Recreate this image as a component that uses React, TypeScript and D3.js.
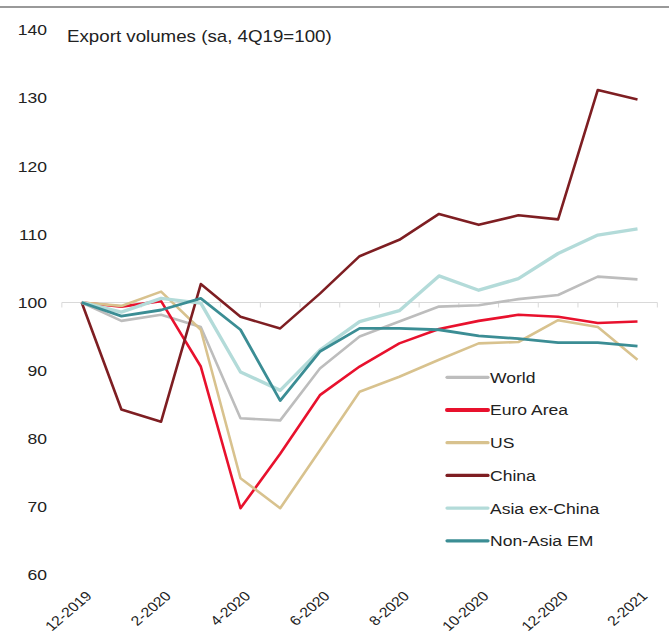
import React, { useEffect, useRef } from 'react'
import * as d3 from 'd3'

// monthly points, 12-2019 .. 2-2021
const months = ['12-2019', '1-2020', '2-2020', '3-2020', '4-2020', '5-2020', '6-2020', '7-2020',
  '8-2020', '9-2020', '10-2020', '11-2020', '12-2020', '1-2021', '2-2021']
const tickLabels = ['12-2019', '2-2020', '4-2020', '6-2020', '8-2020', '10-2020', '12-2020', '2-2021']
const yTicks = [60, 70, 80, 90, 100, 110, 120, 130, 140]

const seriesNames = ['World', 'Euro Area', 'US', 'China', 'Asia ex-China', 'Non-Asia EM']
const world = [100, 97.3, 98.2, 96.4, 83.0, 82.7, 90.3, 95.0, 97.2, 99.4, 99.6, 100.5, 101.1, 103.8, 103.4]
const euroArea = [100, 99.4, 100.2, 90.6, 69.8, 77.8, 86.4, 90.6, 94.0, 96.1, 97.3, 98.2, 97.9, 97.0, 97.2]
const us = [100, 99.5, 101.6, 96.0, 74.2, 69.8, 78.3, 86.9, 89.1, 91.6, 94.0, 94.2, 97.4, 96.4, 91.6]
const china = [100, 84.3, 82.5, 102.7, 97.9, 96.2, 101.3, 106.8, 109.2, 113.0, 111.4, 112.8, 112.2, 131.2, 129.8]
const asiaExChina = [100, 98.6, 100.6, 99.9, 89.8, 87.1, 93.0, 97.2, 98.8, 103.9, 101.8, 103.5, 107.2, 109.9, 110.8]
const nonAsiaEM = [100, 98.0, 98.9, 100.6, 96.0, 85.6, 92.8, 96.2, 96.2, 96.0, 95.1, 94.7, 94.1, 94.1, 93.6]

const colors = ['#bdbdbd', '#e8112d', '#d8c28e', '#7e1e22', '#b3dbd9', '#3b8d94']
const widths = [2.6, 2.6, 2.6, 2.6, 3.4, 2.8]

export default function App() {
  const ref = useRef<SVGSVGElement>(null)

  useEffect(() => {
    const svg = d3.select(ref.current)
    svg.selectAll('*').remove()
    const font = '"Liberation Sans", Arial, sans-serif'
    const sx = 1.17 // the text in the picture is a bit wide

    const x = d3.scalePoint<string>().domain(months).range([81.7, 637.5])
    const step = x.step()
    const y = d3.scaleLinear().domain([60, 140]).range([575, 30])

    // top rule
    svg.append('line').attr('x1', 0).attr('x2', 669).attr('y1', 7).attr('y2', 7)
      .attr('stroke', '#777').attr('stroke-width', 1.5)

    // y labels
    svg.append('g').selectAll('text').data(yTicks).join('text')
      .attr('transform', d => 'translate(47,' + y(d) + ') scale(' + sx + ',1)')
      .attr('dy', '0.35em')
      .attr('text-anchor', 'end').attr('font-family', font).attr('font-size', 15)
      .attr('fill', '#222').text(d => d)

    // title
    svg.append('text').attr('transform', 'translate(67,42) scale(' + sx + ',1)').attr('font-family', font)
      .attr('font-size', 16).attr('fill', '#222').text('Export volumes (sa, 4Q19=100)')

    // category axis crossing at 100
    const y100 = y(100)
    svg.append('line').attr('x1', x(months[0])! - step / 2).attr('x2', x(months[months.length - 1])! + step / 2)
      .attr('y1', y100).attr('y2', y100).attr('stroke', '#d9d9d9').attr('stroke-width', 1)
    svg.append('g').selectAll('line').data(d3.range(months.length + 1)).join('line')
      .attr('x1', i => x(months[0])! + (i - 0.5) * step).attr('x2', i => x(months[0])! + (i - 0.5) * step)
      .attr('y1', y100).attr('y2', y100 + 5).attr('stroke', '#d9d9d9').attr('stroke-width', 1)

    // x labels
    svg.append('g').selectAll('text').data(tickLabels).join('text')
      .attr('transform', d => 'translate(' + (x(d)! + 7) + ',593.5) scale(' + sx + ',1) rotate(-45)')
      .attr('dy', '0.35em').attr('text-anchor', 'end').attr('font-family', font)
      .attr('font-size', 13.5).attr('fill', '#222').text(d => d)

    // lines
    const all = [world, euroArea, us, china, asiaExChina, nonAsiaEM]
    const line = d3.line<number>().x((d, i) => x(months[i])!).y(d => y(d))
    all.forEach((s, k) => {
      svg.append('path').datum(s).attr('d', line).attr('fill', 'none')
        .attr('stroke', colors[k]).attr('stroke-width', widths[k]).attr('stroke-linejoin', 'round')
    })

    // legend
    const lg = svg.append('g')
    seriesNames.forEach((name, k) => {
      const ly = 377.3 + k * 32.7
      lg.append('line').attr('x1', 447).attr('x2', 488).attr('y1', ly).attr('y2', ly)
        .attr('stroke', colors[k]).attr('stroke-width', k === 1 ? 4 : 3.2).attr('stroke-linecap', 'round')
      lg.append('text').attr('transform', 'translate(490,' + ly + ') scale(' + sx + ',1)')
        .attr('dy', '0.36em').attr('font-family', font)
        .attr('font-size', 15).attr('fill', '#222').text(name)
    })
  }, [])

  return (
    <svg ref={ref} width={669} height={633} style={{ position: 'absolute', left: 0, top: 0, background: '#fff' }} />
  )
}
